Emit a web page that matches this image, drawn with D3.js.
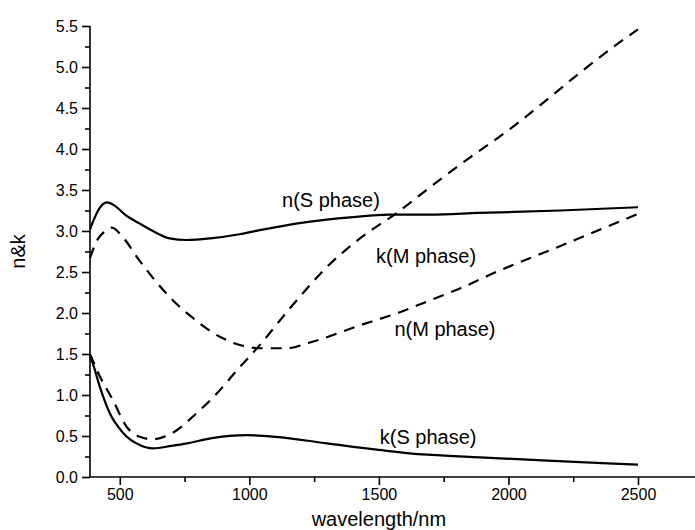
<!DOCTYPE html>
<html>
<head>
<meta charset="utf-8">
<script src="https://cdn.jsdelivr.net/npm/d3@7/dist/d3.min.js"></script>
<style>
  html, body { margin: 0; padding: 0; background: #fff; }
  svg { display: block; font-family: "Liberation Sans", Arial, sans-serif; }
</style>
</head>
<body>
<svg id="chart" width="695" height="530"></svg>
<script>
// Optical constants (n and k) of the S and M phases versus wavelength (nm)
const nS_wl  = [385, 400, 420, 450, 480, 520, 577, 640, 692, 758, 850, 962, 1040, 1200, 1400, 1538, 1700, 1885, 2200, 2500];
const nS_val = [3.02, 3.14, 3.27, 3.35, 3.31, 3.2, 3.09, 2.98, 2.91, 2.89, 2.91, 2.96, 3.01, 3.1, 3.17, 3.2, 3.2, 3.22, 3.25, 3.29];

const kS_wl  = [385, 394, 423, 461, 512, 577, 627, 700, 760, 850, 990, 1100, 1300, 1500, 1650, 1700, 1890, 2150, 2500];
const kS_val = [1.47, 1.4, 1.1, 0.78, 0.54, 0.39, 0.35, 0.38, 0.41, 0.47, 0.51, 0.49, 0.41, 0.33, 0.28, 0.27, 0.24, 0.2, 0.15];

const nM_wl  = [385, 411, 440, 469, 508, 569, 643, 700, 782, 886, 963, 1040, 1145, 1234, 1427, 1581, 1670, 1813, 1967, 2187, 2500];
const nM_val = [2.67, 2.88, 2.99, 3.04, 2.94, 2.67, 2.37, 2.17, 1.94, 1.71, 1.61, 1.57, 1.57, 1.64, 1.85, 2.01, 2.12, 2.3, 2.52, 2.8, 3.21];

const kM_wl  = [385, 392, 415, 473, 527, 577, 627, 705, 797, 875, 952, 1035, 1168, 1299, 1427, 1569, 1708, 1840, 2017, 2148, 2276, 2403, 2500];
const kM_val = [1.5, 1.45, 1.28, 0.94, 0.61, 0.49, 0.46, 0.54, 0.78, 1.02, 1.3, 1.59, 2.1, 2.56, 2.91, 3.22, 3.56, 3.87, 4.27, 4.6, 4.93, 5.24, 5.46];

const xTicks = [500, 1000, 1500, 2000, 2500];
const yTicks = [0, 0.5, 1, 1.5, 2, 2.5, 3, 3.5, 4, 4.5, 5, 5.5];

const curveLabels = [
  { text: "n(S phase)", wl: 1315, v: 3.36 },
  { text: "k(M phase)", wl: 1682, v: 2.67 },
  { text: "n(M phase)", wl: 1755, v: 1.79 },
  { text: "k(S phase)", wl: 1690, v: 0.47 }
];

const svg = d3.select("#chart");

const x = d3.scaleLinear().domain([385, 2720]).range([90, 695]);
const y = d3.scaleLinear().domain([0, 5.5]).range([477, 26]);

// y axis: major ticks every 0.5, minor ticks halfway
svg.append("g")
  .attr("transform", "translate(90,0)")
  .call(d3.axisLeft(y).tickValues(d3.range(0.25, 5.5, 0.5)).tickSize(5).tickFormat(""))
  .call(g => g.select(".domain").remove());
svg.append("g")
  .attr("class", "yaxis")
  .attr("transform", "translate(90,0)")
  .call(d3.axisLeft(y).tickValues(yTicks).tickSize(8).tickPadding(4).tickFormat(d3.format(".1f")))
  .call(g => g.select(".domain").attr("d", `M0,${y(5.5)}V${y(0)}`));

// x axis: major ticks every 500, minor ticks halfway
svg.append("g")
  .attr("transform", `translate(0,${y(0)})`)
  .call(d3.axisBottom(x).tickValues(d3.range(750, 2750, 500)).tickSize(5).tickFormat(""))
  .call(g => g.select(".domain").remove());
svg.append("g")
  .attr("class", "xaxis")
  .attr("transform", `translate(0,${y(0)})`)
  .call(d3.axisBottom(x).tickValues(xTicks).tickSize(8).tickPadding(4).tickFormat(d3.format("d")))
  .call(g => g.select(".domain").attr("d", `M90,0H695`));

svg.selectAll(".tick line, .domain").attr("stroke", "#000").attr("stroke-width", 1.6);
svg.selectAll(".tick text").attr("font-size", 16).attr("fill", "#000")
  .attr("font-family", '"Liberation Sans", Arial, sans-serif');

// axis titles
svg.append("text")
  .attr("x", x(1500)).attr("y", 526)
  .attr("text-anchor", "middle")
  .attr("font-size", 20)
  .text("wavelength/nm");
svg.append("text")
  .attr("transform", `translate(25,${(y(0) + y(5.5)) / 2}) rotate(-90)`)
  .attr("text-anchor", "middle")
  .attr("font-size", 20)
  .text("n&k");

// curves
const series = [
  { wl: nS_wl, v: nS_val, dash: null },
  { wl: kS_wl, v: kS_val, dash: null },
  { wl: nM_wl, v: nM_val, dash: "11,8" },
  { wl: kM_wl, v: kM_val, dash: "11,8" }
];
const line = d3.line()
  .x(d => x(d[0]))
  .y(d => y(d[1]))
  .curve(d3.curveMonotoneX);

svg.append("g").selectAll("path")
  .data(series)
  .join("path")
  .attr("d", s => line(s.wl.map((w, i) => [w, s.v[i]])))
  .attr("fill", "none")
  .attr("stroke", "#000")
  .attr("stroke-width", 2.2)
  .attr("stroke-dasharray", s => s.dash);

// curve annotations
svg.append("g").selectAll("text")
  .data(curveLabels)
  .join("text")
  .attr("x", d => x(d.wl))
  .attr("y", d => y(d.v))
  .attr("text-anchor", "middle")
  .attr("dominant-baseline", "middle")
  .attr("font-size", 20)
  .text(d => d.text);
</script>
</body>
</html>
